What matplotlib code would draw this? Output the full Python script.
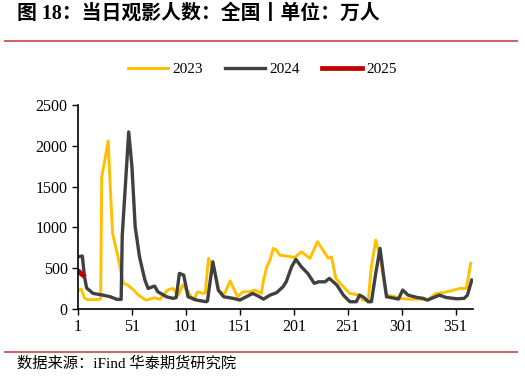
import matplotlib.pyplot as plt
from matplotlib.lines import Line2D

plt.rcParams['font.family'] = ['Liberation Serif', 'Noto Sans CJK SC']

# day of year / value (万人)
days_2023 = [1, 4, 7, 10, 15, 20, 22, 23, 29, 30, 33, 38, 41, 43, 47, 52, 57, 64, 72, 77,
             84, 89, 94, 98, 103, 108, 112, 117, 119, 122, 128, 132, 137, 142, 146, 149,
             154, 160, 165, 171, 173, 176, 179, 182, 185, 188, 194, 202, 208, 216, 223,
             230, 233, 236, 240, 247, 253, 262, 265, 270, 273, 277, 281, 284, 287, 295,
             299, 308, 318, 325, 333, 339, 347, 355, 361, 365]
vals_2023 = [224, 245, 135, 115, 115, 118, 125, 1620, 2060, 1750, 930, 640, 440, 315, 294,
             241, 171, 110, 138, 119, 233, 253, 171, 294, 212, 110, 212, 192, 200, 621,
             440, 212, 192, 345, 233, 151, 212, 212, 233, 192, 355, 518, 600, 743, 722,
             661, 650, 633, 702, 621, 825, 682, 621, 640, 376, 273, 192, 171, 110, 110,
             518, 845, 640, 396, 171, 151, 131, 122, 122, 110, 192, 200, 224, 253, 253, 560]

days_2024 = [1, 5, 7, 9, 15, 24, 31, 37, 41, 42, 48, 51, 54, 58, 63, 66, 72, 75, 83, 89,
             92, 95, 99, 103, 111, 120, 121, 126, 131, 136, 145, 151, 157, 163, 168, 173,
             179, 185, 191, 194, 199, 203, 208, 214, 220, 224, 230, 234, 241, 247, 253,
             259, 262, 266, 270, 273, 277, 281, 284, 287, 295, 298, 302, 307, 315, 321,
             325, 330, 336, 342, 352, 359, 362, 366]
vals_2024 = [640, 650, 396, 257, 192, 171, 151, 119, 119, 900, 2170, 1743, 1008, 640, 355,
             253, 282, 212, 151, 131, 140, 437, 416, 151, 110, 90, 100, 580, 233, 151, 131,
             110, 151, 192, 159, 122, 171, 200, 273, 334, 518, 609, 518, 437, 315, 334,
             334, 376, 294, 171, 90, 90, 171, 143, 90, 90, 437, 743, 437, 151, 131, 122,
             233, 171, 143, 131, 110, 138, 171, 143, 126, 131, 171, 355]

days_2025 = [1, 2, 3, 4, 5, 6]
vals_2025 = [470, 460, 445, 430, 420, 410]

series = [('2023', days_2023, vals_2023, '#FFC000', 2.1),
          ('2024', days_2024, vals_2024, '#404040', 2.4),
          ('2025', days_2025, vals_2025, '#C00000', 3.4)]

fig = plt.figure(figsize=(5.25, 3.76), dpi=100)
ax = fig.add_axes([0.1486, 0.178, 0.752, 0.5427])

for name, d, v, c, lw in series:
    ax.plot(d, v, color=c, lw=lw, label=name, solid_joinstyle='round')

ax.set_xlim(1, 367)
ax.set_ylim(0, 2500)
ax.set_xticks(range(1, 352, 50))
ax.set_yticks(range(0, 2501, 500))
ax.tick_params(labelsize=11.5, direction='out', length=4, width=1, colors='black')
for s in ['top', 'right']:
    ax.spines[s].set_visible(False)
for s in ['left', 'bottom']:
    ax.spines[s].set_linewidth(1.2)

handles = [Line2D([], [], color=c, lw=lw) for _, _, _, c, lw in series]
fig.legend(handles, [s[0] for s in series], loc='center', bbox_to_anchor=(0.5, 0.816),
           ncol=3, frameon=False, fontsize=11, handlelength=2.6, handletextpad=0.3,
           columnspacing=1.45)

fig.text(0.032, 0.963, '图 18：当日观影人数：全国丨单位：万人', fontsize=14.3,
         fontweight='bold', va='center', ha='left')
fig.text(0.032, 0.035, '数据来源：iFind 华泰期货研究院', fontsize=11, va='center', ha='left')

fig.add_artist(Line2D([0.01, 0.985], [0.891, 0.891], color='#C8696B', lw=1.5))
fig.add_artist(Line2D([0.01, 0.985], [0.064, 0.064], color='#C8696B', lw=1.5))

fig.savefig('out.png', dpi=100)
